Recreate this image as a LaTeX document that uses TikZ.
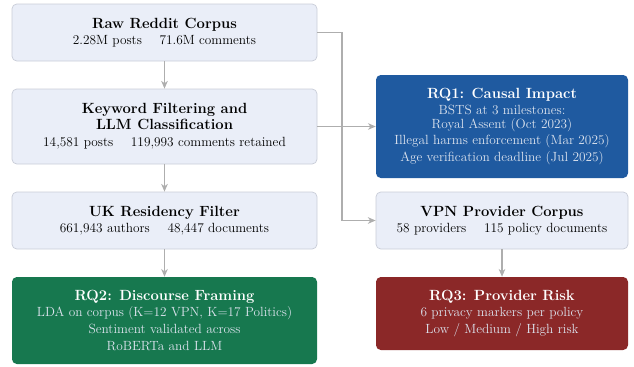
\documentclass[tikz,border=0pt]{standalone}
\usetikzlibrary{arrows.meta}
\definecolor{lightfill}{HTML}{EAEEF8}
\definecolor{lightdraw}{HTML}{C9CDD8}
\definecolor{rqblue}{HTML}{1F5AA0}
\definecolor{rqgreen}{HTML}{17784F}
\definecolor{rqred}{HTML}{8B2828}
\definecolor{linegray}{HTML}{AEAEAE}
\definecolor{subwhite}{HTML}{DCE3EE}
\newcommand\bt[1]{{\fontsize{12.3}{14}\selectfont\bfseries #1}}
\begin{document}
\begin{tikzpicture}[x=0.8333pt,y=-0.8333pt,
  box/.style={rounded corners=4pt, align=center, inner sep=0pt, font=\fontsize{11.1}{13}\selectfont},
  lightbox/.style={box, fill=lightfill, draw=lightdraw, line width=0.6pt},
  bluebox/.style={box, fill=rqblue, text=subwhite},
  greenbox/.style={box, fill=rqgreen, text=subwhite},
  redbox/.style={box, fill=rqred, text=subwhite},
  conn/.style={draw=linegray, line width=0.9pt, -{Stealth[length=6.5pt,width=5.5pt,inset=2pt]}}]
\useasboundingbox (0,0) rectangle (634,366);
\node[lightbox, minimum width=305*0.8333pt, minimum height=57*0.8333pt] (raw) at (164.5,32.5)
  {\bt{Raw Reddit Corpus}\\[0.5pt]2.28M posts \quad 71.6M comments};
\node[lightbox, minimum width=305*0.8333pt, minimum height=75*0.8333pt] (kw) at (164.5,126.5)
  {\bt{Keyword Filtering and}\\\bt{LLM Classification}\\[1.5pt]14,581 posts \quad 119,993 comments retained};
\node[lightbox, minimum width=305*0.8333pt, minimum height=57*0.8333pt] (uk) at (164.5,220.5)
  {\bt{UK Residency Filter}\\[0.5pt]661,943 authors \quad 48,447 documents};
\node[greenbox, minimum width=305*0.8333pt, minimum height=87*0.8333pt] (rq2) at (164.5,320.5)
  {\textcolor{white}{\bt{RQ2: Discourse Framing}}\\[1pt]LDA on corpus (K=12 VPN, K=17 Politics)\\[1.2pt]Sentiment validated across\\[1.2pt]RoBERTa and LLM};
\node[bluebox, minimum width=252*0.8333pt, minimum height=103*0.8333pt] (rq1) at (502,126.5)
  {\textcolor{white}{\bt{RQ1: Causal Impact}}\\[1pt]BSTS at 3 milestones:\\[-1.5pt]Royal Assent (Oct 2023)\\[0.5pt]Illegal harms enforcement (Mar 2025)\\[1.2pt]Age verification deadline (Jul 2025)};
\node[lightbox, minimum width=252*0.8333pt, minimum height=57*0.8333pt] (vpn) at (502,220.5)
  {\bt{VPN Provider Corpus}\\[0.5pt]58 providers \quad 115 policy documents};
\node[redbox, minimum width=252*0.8333pt, minimum height=73*0.8333pt] (rq3) at (502,313.5)
  {\textcolor{white}{\bt{RQ3: Provider Risk}}\\[1pt]6 privacy markers per policy\\[1.2pt]Low / Medium / High risk};
\coordinate (j1) at (342,32.7);
\coordinate (j2) at (342,220.5);
\draw[conn] (raw) -- (kw);
\draw[conn] (kw) -- (uk);
\draw[conn] (uk) -- (uk |- rq2.north);
\draw[conn] (vpn) -- (rq3);
\draw[conn] (raw.east |- j1) -- (j1) -- (j2) -- (vpn.west);
\draw[conn] (kw.east) -- (rq1.west);
\end{tikzpicture}
\end{document}
